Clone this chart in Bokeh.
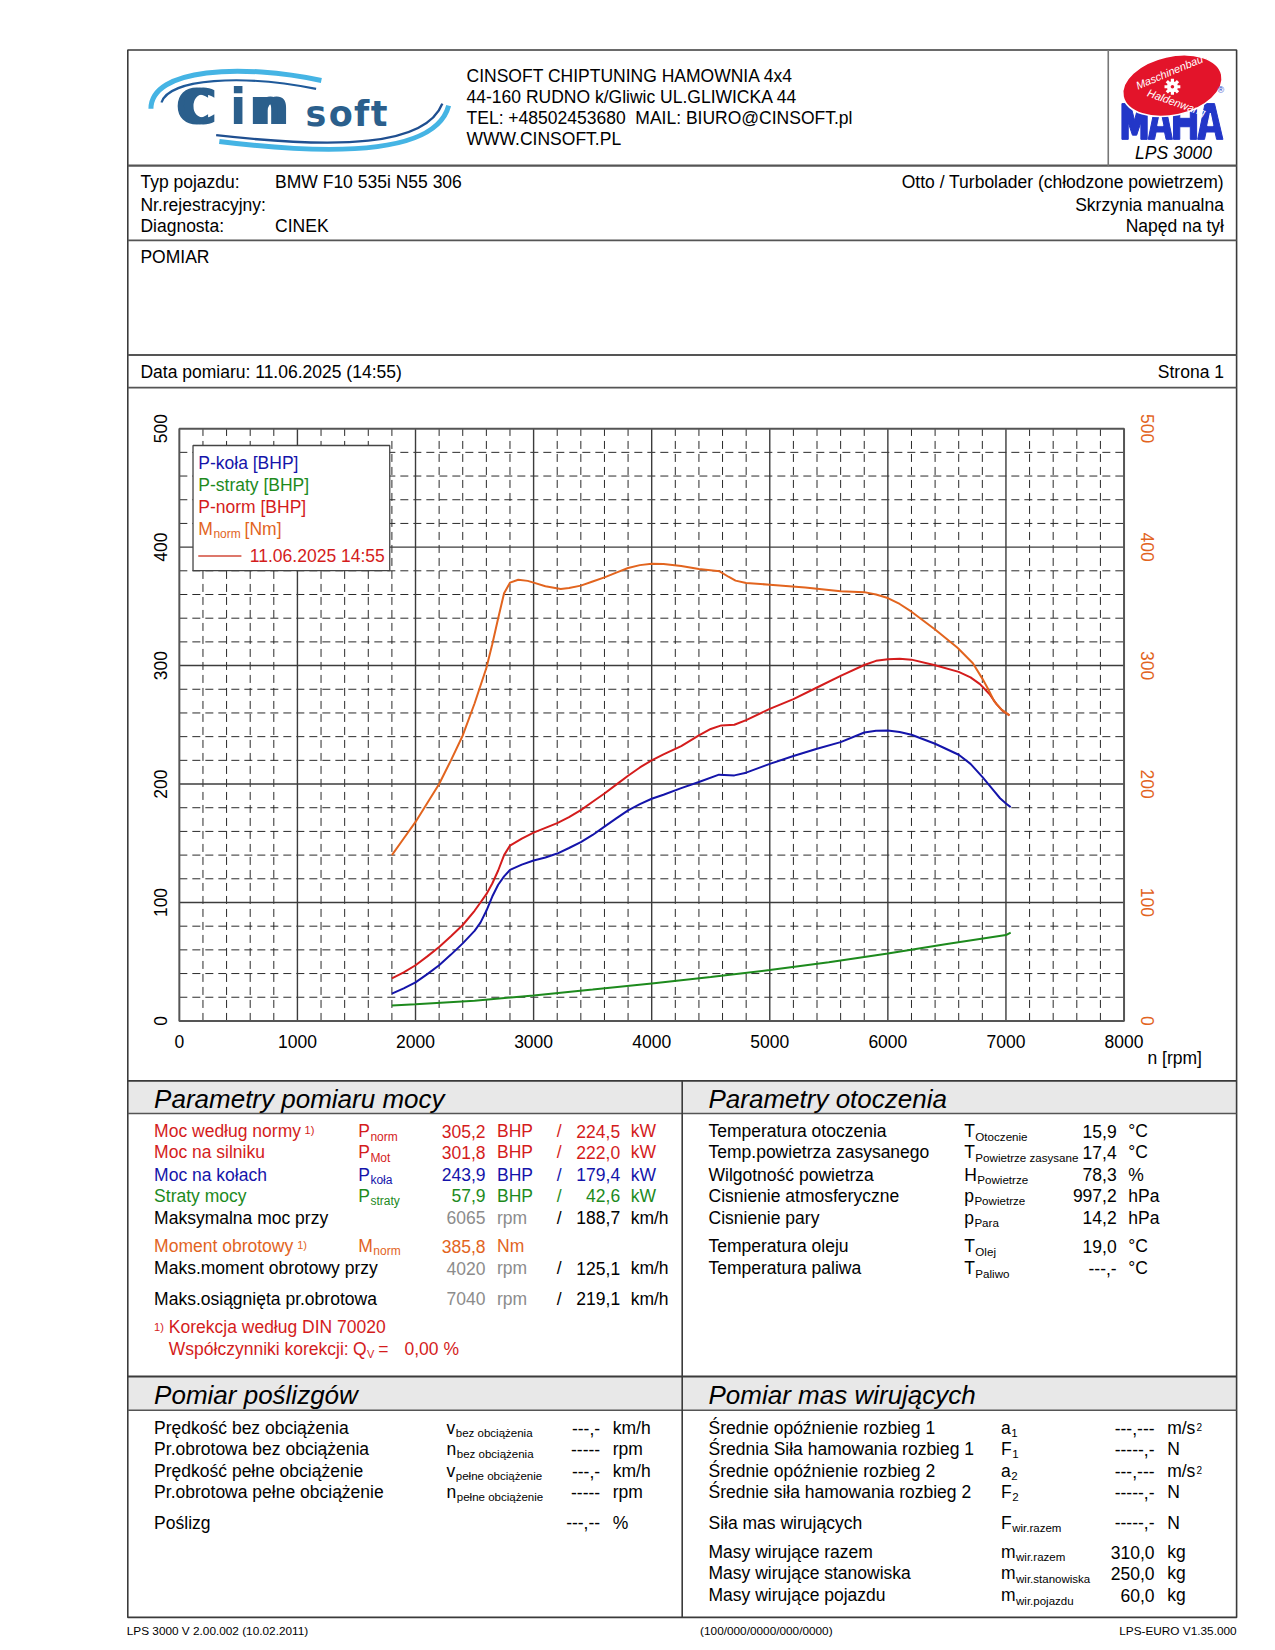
import math
from bokeh.plotting import figure
from bokeh.models import Range1d, LinearAxis, FixedTicker
from bokeh.core.properties import value
from bokeh.embed import file_html
from bokeh.resources import INLINE

# ---------------- chart data ----------------
rpm_m = [1800, 1900, 2000, 2100, 2200, 2300, 2400, 2500, 2600, 2650,
         2700, 2750, 2800, 2870, 2950, 3000, 3100, 3230, 3300, 3400,
         3500, 3600, 3700, 3800, 3900, 4000, 4100, 4250, 4400, 4575,
         4650, 4710, 4800, 5000, 5300, 5600, 5800, 5900, 6000, 6100,
         6200, 6400, 6590, 6720, 6800, 6850, 6900, 6960, 7030]
m_norm = [140, 154, 168, 184, 200, 220, 241, 268, 298, 318,
          340, 361, 370, 372.5, 371.5, 370, 367, 364.7, 365.5, 367.5,
          371, 374.5, 378.5, 382.4, 384.8, 386, 385.8, 384, 381.5, 379.6,
          375, 371.7, 369.7, 368.3, 366, 362.7, 362, 360, 357, 352,
          345.5, 330.5, 315, 302, 289, 280, 270, 263, 258]

rpm_n = [1800, 1900, 2000, 2100, 2200, 2300, 2400, 2500, 2550, 2600,
         2650, 2700, 2750, 2800, 2900, 3000, 3100, 3200, 3300, 3400,
         3500, 3600, 3700, 3800, 3900, 4000, 4100, 4250, 4400, 4500,
         4590, 4700, 4800, 5000, 5200, 5400, 5600, 5800, 5900, 6000,
         6100, 6200, 6400, 6600, 6700, 6780, 6860, 6920, 6970, 7030]
p_norm = [36, 41, 47, 54.5, 62.5, 71.5, 81, 93, 100, 107,
          116, 127, 140, 148, 154, 159, 163, 167, 172, 178,
          185, 192, 199.5, 207, 214, 220, 225, 232, 241, 246.5,
          249.5, 250, 254, 263.5, 271.7, 281.5, 291.3, 300.5, 304, 305.3,
          305.8, 305, 300.3, 294.7, 290, 284.3, 276, 267.5, 262, 258]

rpm_k = [1800, 1900, 2000, 2100, 2200, 2300, 2400, 2500, 2550, 2600,
         2650, 2700, 2750, 2800, 2900, 3000, 3100, 3200, 3300, 3400,
         3500, 3600, 3700, 3800, 3900, 4000, 4100, 4250, 4400, 4570,
         4700, 4800, 5000, 5200, 5400, 5600, 5800, 5900, 6000, 6100,
         6200, 6400, 6600, 6700, 6800, 6900, 6950, 7000, 7040]
p_kola = [23, 27.5, 32.5, 39.5, 47, 56, 65.5, 76, 83, 93,
          105, 115, 122, 127.5, 132, 135.5, 138, 141.3, 146, 151,
          157, 164, 171, 177.8, 183, 187.6, 191, 196.5, 201.7, 207.9,
          207.3, 209.6, 217, 223.6, 229.8, 235.4, 243.5, 245, 245.2, 244,
          241.6, 234, 224.7, 217, 206, 194, 188, 183.5, 180.5]

rpm_s = [1800, 2000, 2500, 3000, 3500, 4000, 4500, 5000, 5500, 6000, 6500, 7000, 7040]
p_straty = [13, 14, 17, 21.5, 26.5, 31.7, 37, 43, 49.5, 57, 65, 72.5, 74.6]

x_ticks = [0, 1000, 2000, 3000, 4000, 5000, 6000, 7000, 8000]
y_ticks = [0, 100, 200, 300, 400, 500]

legend_labels = ["P-koła [BHP]", "P-straty [BHP]", "P-norm [BHP]"]
run_label = "11.06.2025 14:55"

header_lines = ["CINSOFT CHIPTUNING HAMOWNIA 4x4",
                "44-160 RUDNO k/Gliwic UL.GLIWICKA 44",
                "TEL: +48502453680\u00a0 MAIL: BIURO@CINSOFT.pl",
                "WWW.CINSOFT.PL"]

# ---------------- styling ----------------
RED = "#d41c1c"
BLUE = "#1414aa"
GREEN = "#1d8a1d"
ORANGE = "#e2641e"
GRAYTXT = "#8c8c8c"
LINE = "#3a3a3a"
FONT = "Liberation Sans"
FS = 17.5

W, H = 1259, 1642
S = 1.052
OFF = 0.0


def P(d):
    return d * S - OFF


PL, PR, PT, PB = P(170), P(1068), P(407), P(970)
kx = 8000.0 / (PR - PL)
ky = 500.0 / (PB - PT)

p = figure(width=W, height=H,
           x_range=Range1d(-PL * kx, 8000 + (W - PR) * kx),
           y_range=Range1d(-(H - PB) * ky, 500 + PT * ky),
           output_backend="svg", toolbar_location=None, min_border=0,
           x_axis_location=None, y_axis_location=None, title=None)
p.outline_line_color = None
p.xgrid.visible = False
p.ygrid.visible = False
p.background_fill_color = "white"
p.border_fill_color = "white"
p.extra_x_ranges = {"px": Range1d(0, W)}
p.extra_y_ranges = {"px": Range1d(H, 0)}

PX = dict(x_range_name="px", y_range_name="px")


def T(x, y, s, color="black", size=FS, align="left", style="normal", font=FONT,
      baseline="middle", angle=0.0):
    p.text(x=[P(x)], y=[P(y)], text=[s], text_font=value(font),
           text_font_size=value(f"{size}px"), text_color=color, text_align=align,
           text_baseline=baseline, text_font_style=style, angle=angle, **PX)


def HL(x0, x1, y, color=LINE, width=1.6):
    p.segment(x0=[P(x0)], y0=[P(y)], x1=[P(x1)], y1=[P(y)], line_color=color,
              line_width=width, **PX)


def VL(x, y0, y1, color=LINE, width=1.6):
    p.segment(x0=[P(x)], y0=[P(y0)], x1=[P(x)], y1=[P(y1)], line_color=color,
              line_width=width, **PX)


def BOX(x0, y0, x1, y1, fill, line=None, width=1.0):
    p.quad(left=[P(x0)], right=[P(x1)], top=[P(y0)], bottom=[P(y1)],
           fill_color=fill, line_color=line, line_width=width, **PX)


def BZ(x0, y0, cx0, cy0, cx1, cy1, x1, y1, color, width):
    p.bezier(x0=[P(x0)], y0=[P(y0)], x1=[P(x1)], y1=[P(y1)], cx0=[P(cx0)], cy0=[P(cy0)],
             cx1=[P(cx1)], cy1=[P(cy1)], line_color=color, line_width=width, **PX)


CW = {"P": .667, "T": .611, "H": .722, "p": .556, "v": .5, "n": .556, "a": .556,
      "F": .611, "m": .833, "M": .833, "Q": .778}


def SYM(x, y, main, sub, color="black", size=FS, subsize=12, dy=5):
    T(x, y, main, color, size)
    T(x + CW[main] * size / S + 0.5, y + dy, sub, color, subsize)


# ---------------- page frame ----------------
BOX(121, 1027, 1175, 1058, "#e8e8e8")
BOX(121, 1308, 1175, 1340, "#e8e8e8")
BOX(121, 47, 1175, 1537, None, LINE, 1.6)
HL(121, 1175, 157, "#555555", 2.2)
VL(1053, 47, 157, "#777777", 1.6)
HL(121, 1175, 228, "#555555", 1.8)
HL(121, 1175, 337, "#555555", 1.8)
HL(121, 1175, 368, "#555555", 1.8)
HL(121, 1175, 1027, LINE, 1.8)
HL(121, 1175, 1058, "#555555", 1.4)
HL(121, 1175, 1308, LINE, 1.8)
HL(121, 1175, 1340, "#555555", 1.4)
VL(648, 1027, 1537, LINE, 1.6)

# ---------------- Cinsoft logo ----------------
BZ(143, 103, 143, 64, 230, 60, 305, 76, "#45b4e4", 5)
BZ(153, 97, 160, 74, 230, 70, 300, 84, "#1f5a9a", 2.2)
BZ(208, 134, 320, 148, 414, 146, 426, 100, "#45b4e4", 5)
BZ(205, 128, 320, 141, 404, 139, 420, 98, "#1f4f90", 2.4)
LOGO = "#2b5f8c"
for ch, xx in [("C", 166), ("C", 172), ("i", 218), ("n", 236), ("n", 242)]:
    T(xx, 102, ch, LOGO, 49, font="DejaVu Sans", style="bold")
for ch, xx in [("s", 290), ("o", 312), ("f", 336), ("t", 352)]:
    T(xx, 108, ch, LOGO, 35, font="DejaVu Sans", style="bold")

# ---------------- header text ----------------
for i, s in enumerate(header_lines):
    T(443, 72 + 20 * i, s)

# ---------------- MAHA logo ----------------
maha_blue = "#2236c8"
letters = [
    [(1066, 132), (1066, 98), (1074, 98), (1078, 114), (1082, 98), (1090, 98), (1090, 132),
     (1084, 132), (1084, 116), (1080, 128), (1076, 128), (1072, 116), (1072, 132)],
    [(1091, 132), (1098, 98), (1107, 98), (1114, 132), (1108, 132), (1106.5, 125),
     (1098.5, 125), (1097, 132)],
    [(1115, 132), (1115, 98), (1121, 98), (1121, 112), (1131, 112), (1131, 98), (1137, 98),
     (1137, 132), (1131, 132), (1131, 120), (1121, 120), (1121, 132)],
    [(1138, 132), (1145, 98), (1154, 98), (1162, 132), (1156, 132), (1154.5, 125),
     (1146, 125), (1144.5, 132)],
]
p.patches(xs=[[P(a) for a, b in L] for L in letters], ys=[[P(b) for a, b in L] for L in letters],
          fill_color=maha_blue, line_color=maha_blue, **PX)
holes = [[(1100, 119), (1102.5, 107), (1105, 119)], [(1147.5, 119), (1150, 107), (1152.5, 119)]]
p.patches(xs=[[P(a) for a, b in L] for L in holes], ys=[[P(b) for a, b in L] for L in holes],
          fill_color="white", line_color="white", **PX)
p.ellipse(x=[P(1114)], y=[P(81)], width=[96 * S], height=[56 * S], angle=0.22,
          fill_color="#e3142a", line_color="white", line_width=1.5, **PX)
p.scatter(x=[P(1114)], y=[P(82)], size=11, marker="circle", fill_color="white",
          line_color=None, **PX)
for k in range(8):
    a = k * math.pi / 4
    p.rect(x=[P(1114 + 6 * math.cos(a))], y=[P(82 + 6 * math.sin(a))], width=[3.2], height=[3.2],
           angle=a, fill_color="white", line_color=None, **PX)
p.scatter(x=[P(1114)], y=[P(82)], size=3.5, marker="circle", fill_color="#e3142a",
          line_color=None, **PX)
T(1111, 68, "Maschinenbau", "white", 11, align="center", style="italic", angle=0.4)
T(1118, 97, "Haldenwang", "white", 11, align="center", style="italic", angle=-0.34)
T(1160, 85, "®", maha_blue, 9, align="center")
T(1115, 145, "LPS 3000", "black", FS, align="center", style="italic")

# ---------------- vehicle info ----------------
T(133, 173, "Typ pojazdu:")
T(261, 173, "BMW F10 535i N55 306")
T(133, 194, "Nr.rejestracyjny:")
T(133, 214, "Diagnosta:")
T(261, 214, "CINEK")
T(1163, 173, "Otto / Turbolader (chłodzone powietrzem)", align="right")
T(1163, 194, "Skrzynia manualna", align="right")
T(1163, 214, "Napęd na tył", align="right")
T(133, 244, "POMIAR")
T(133, 353, "Data pomiaru: 11.06.2025 (14:55)")
T(1163, 353, "Strona 1", align="right")

# ---------------- chart grid (data units) ----------------
minor_x = [r for r in range(200, 8000, 200) if r % 1000]
major_x = [r for r in x_ticks if 0 < r < 8000]
minor_y = [v for v in range(20, 500, 20) if v % 100]
major_y = [v for v in y_ticks if 0 < v < 500]
p.segment(x0=minor_x, y0=[0] * len(minor_x), x1=minor_x, y1=[500] * len(minor_x),
          line_color="#2a2a2a", line_width=1, line_dash="8 5")
p.segment(x0=[0] * len(minor_y), y0=minor_y, x1=[8000] * len(minor_y), y1=minor_y,
          line_color="#2a2a2a", line_width=1, line_dash="8 5")
p.segment(x0=major_x, y0=[0] * len(major_x), x1=major_x, y1=[500] * len(major_x),
          line_color="#3c3c3c", line_width=1.4)
p.segment(x0=[0] * len(major_y), y0=major_y, x1=[8000] * len(major_y), y1=major_y,
          line_color="#3c3c3c", line_width=1.4)
p.quad(left=[0], right=[8000], bottom=[0], top=[500], fill_color=None,
       line_color="#555555", line_width=2)

# axes of the chart
ax_b = LinearAxis(fixed_location=0, bounds=(0, 8000), ticker=FixedTicker(ticks=x_ticks),
                  axis_line_color=None, major_tick_line_color=None, minor_tick_line_color=None,
                  major_label_text_font=FONT, major_label_text_font_size="17.5px",
                  major_label_text_color="black", major_label_standoff=8)
p.add_layout(ax_b, "below")
ax_l = LinearAxis(fixed_location=0, bounds=(0, 500), ticker=FixedTicker(ticks=y_ticks),
                  axis_line_color=None, major_tick_line_color=None, minor_tick_line_color=None,
                  major_label_text_font=FONT, major_label_text_font_size="17.5px",
                  major_label_text_color="black", major_label_orientation="vertical",
                  major_label_standoff=6)
p.add_layout(ax_l, "left")
ax_r = LinearAxis(fixed_location=8000, bounds=(0, 500), ticker=FixedTicker(ticks=y_ticks),
                  axis_line_color=None, major_tick_line_color=None, minor_tick_line_color=None,
                  major_label_text_font=FONT, major_label_text_font_size="17.5px",
                  major_label_text_color=ORANGE, major_label_orientation="vertical",
                  major_label_standoff=11)
p.add_layout(ax_r, "right")
T(1142, 1005, "n [rpm]", align="right")

# legend box
BOX(183, 423, 370, 542, "white", "#444444", 1.3)

# curves
p.line(rpm_s, p_straty, line_color=GREEN, line_width=2)
p.line(rpm_k, p_kola, line_color=BLUE, line_width=2)
p.line(rpm_n, p_norm, line_color=RED, line_width=2)
p.line(rpm_m, m_norm, line_color=ORANGE, line_width=2)

# legend text
T(188, 440, legend_labels[0], BLUE)
T(188, 461, legend_labels[1], GREEN)
T(188, 481, legend_labels[2], RED)
SYM(188, 502, "M", "norm", ORANGE, FS, 12, 5)
T(232, 502, "[Nm]", ORANGE)
p.line(x=[P(188), P(229)], y=[P(528), P(528)], line_color="#d24a3a", line_width=1.5, **PX)
T(237, 528, run_label, RED)

# ---------------- section titles ----------------
T(146, 1044, "Parametry pomiaru mocy", size=26, style="italic")
T(673, 1044, "Parametry otoczenia", size=26, style="italic")
T(146, 1326, "Pomiar poślizgów", size=26, style="italic")
T(673, 1326, "Pomiar mas wirujących", size=26, style="italic")

# ---------------- table: Parametry pomiaru mocy ----------------
power_rows = [
    (1075, "Moc według normy", True, "P", "norm", RED, "305,2", "BHP", RED, "224,5", "kW", RED),
    (1095, "Moc na silniku", False, "P", "Mot", RED, "301,8", "BHP", RED, "222,0", "kW", RED),
    (1116, "Moc na kołach", False, "P", "koła", BLUE, "243,9", "BHP", BLUE, "179,4", "kW", BLUE),
    (1136, "Straty mocy", False, "P", "straty", GREEN, "57,9", "BHP", GREEN, "42,6", "kW", GREEN),
]
for (y, lab, sup, sm, sb, c, v1, u1, cv, v2, u2, c2) in power_rows:
    T(146, y, lab, c)
    if sup:
        T(289, y - 1, "1)", c, 11)
    SYM(340, y, sm, sb, c, FS, 12, 5)
    T(461, y, v1, cv, align="right")
    T(472, y, u1, cv)
    T(531, y, "/", c2, align="center")
    T(589, y, v2, c2, align="right")
    T(599, y, u2, c2)

rpm_rows = [(1157, "Maksymalna moc przy", "6065", "188,7"),
            (1205, "Maks.moment obrotowy przy", "4020", "125,1"),
            (1234, "Maks.osiągnięta pr.obrotowa", "7040", "219,1")]
for (y, lab, rv, kv) in rpm_rows:
    T(146, y, lab)
    T(461, y, rv, GRAYTXT, align="right")
    T(472, y, "rpm", GRAYTXT)
    T(531, y, "/", align="center")
    T(589, y, kv, align="right")
    T(599, y, "km/h")

T(146, 1184, "Moment obrotowy", ORANGE)
T(282, 1183, "1)", ORANGE, 11)
SYM(340, 1184, "M", "norm", ORANGE, FS, 12, 5)
T(461, 1184, "385,8", ORANGE, align="right")
T(472, 1184, "Nm", ORANGE)

T(146, 1261, "1)", RED, 11)
T(160, 1261, "Korekcja według DIN 70020", RED)
T(160, 1282, "Współczynniki korekcji:", RED)
SYM(335, 1282, "Q", "V", RED, FS, 11, 5)
T(359, 1282, "=", RED)
T(384, 1282, "0,00 %", RED)

# ---------------- table: Parametry otoczenia ----------------
env_rows = [(1075, "Temperatura otoczenia", "T", "Otoczenie", "15,9", "°C"),
            (1095, "Temp.powietrza zasysanego", "T", "Powietrze zasysane", "17,4", "°C"),
            (1116, "Wilgotność powietrza", "H", "Powietrze", "78,3", "%"),
            (1136, "Cisnienie atmosferyczne", "p", "Powietrze", "997,2", "hPa"),
            (1157, "Cisnienie pary", "p", "Para", "14,2", "hPa"),
            (1184, "Temperatura oleju", "T", "Olej", "19,0", "°C"),
            (1205, "Temperatura paliwa", "T", "Paliwo", "---,-", "°C")]
for (y, lab, sm, sb, v, u) in env_rows:
    T(673, y, lab)
    SYM(916, y, sm, sb, "black", FS, 11.6, 5)
    T(1061, y, v, align="right")
    T(1072, y, u)

# ---------------- table: Pomiar poślizgów ----------------
slip_rows = [(1357, "Prędkość bez obciążenia", "v", "bez obciążenia", "---,-", "km/h"),
             (1377, "Pr.obrotowa bez obciążenia", "n", "bez obciążenia", "-----", "rpm"),
             (1398, "Prędkość pełne obciążenie", "v", "pełne obciążenie", "---,-", "km/h"),
             (1418, "Pr.obrotowa pełne obciążenie", "n", "pełne obciążenie", "-----", "rpm"),
             (1447, "Poślizg", None, None, "---,--", "%")]
for (y, lab, sm, sb, v, u) in slip_rows:
    T(146, y, lab)
    if sm:
        SYM(424, y, sm, sb, "black", FS, 11.5, 5)
    T(570, y, v, align="right")
    T(582, y, u)

# ---------------- table: Pomiar mas wirujących ----------------
mass_rows = [(1357, "Średnie opóźnienie rozbieg 1", "a", "1", "---,---", "m/s"),
             (1377, "Średnia Siła hamowania rozbieg 1", "F", "1", "-----,-", "N"),
             (1398, "Średnie opóźnienie rozbieg 2", "a", "2", "---,---", "m/s"),
             (1418, "Średnie siła hamowania rozbieg 2", "F", "2", "-----,-", "N"),
             (1447, "Siła mas wirujących", "F", "wir.razem", "-----,-", "N"),
             (1475, "Masy wirujące razem", "m", "wir.razem", "310,0", "kg"),
             (1495, "Masy wirujące stanowiska", "m", "wir.stanowiska", "250,0", "kg"),
             (1516, "Masy wirujące pojazdu", "m", "wir.pojazdu", "60,0", "kg")]
for (y, lab, sm, sb, v, u) in mass_rows:
    T(673, y, lab)
    SYM(951, y, sm, sb, "black", FS, 11.5, 5)
    T(1097, y, v, align="right")
    T(1109, y, u)
    if u == "m/s":
        T(1109 + 28, y - 1, "2", "black", 10)

# ---------------- footer ----------------
T(120, 1550, "LPS 3000 V 2.00.002 (10.02.2011)", size=11.8)
T(728, 1550, "(100/000/0000/000/0000)", size=11.8, align="center")
T(1175, 1550, "LPS-EURO V1.35.000", size=11.8, align="right")

open("out.html", "w").write(file_html(p, INLINE))
